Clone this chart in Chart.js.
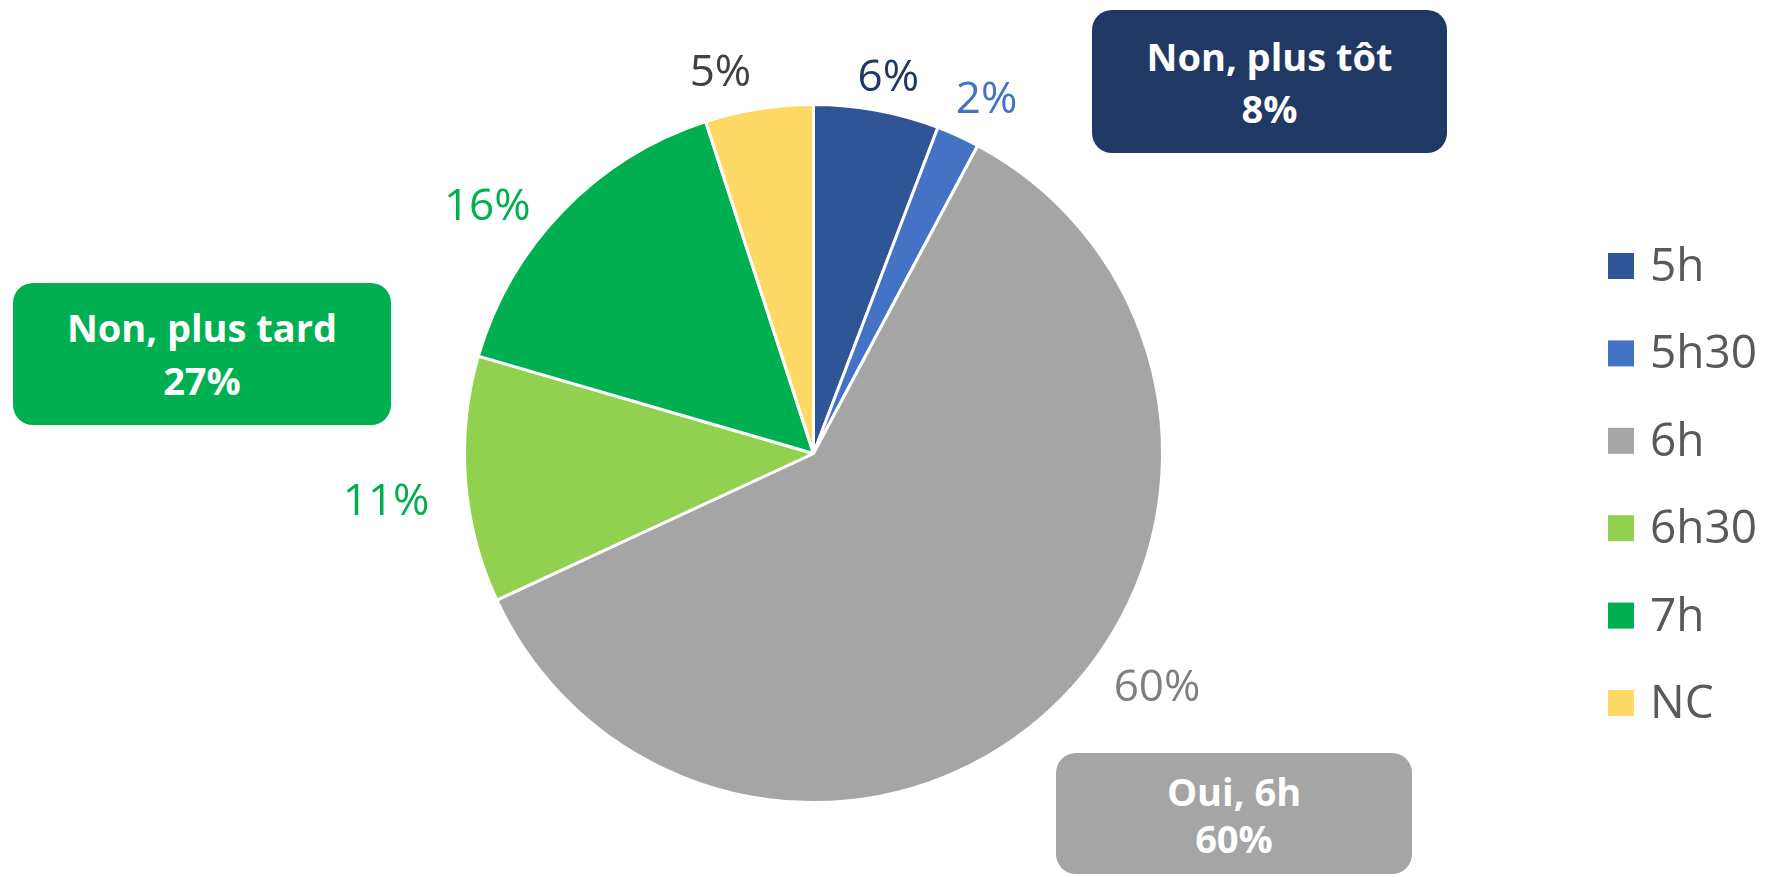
<!DOCTYPE html>
<html><head><meta charset="utf-8">
<script src="https://cdn.jsdelivr.net/npm/chart.js@4.4.0/dist/chart.umd.min.js"></script>
<style>
html,body{margin:0;padding:0;background:#fff;}
#wrap{position:relative;width:1765px;height:877px;overflow:hidden;}
canvas{position:absolute;left:0;top:0;}
.box{position:absolute;color:#fff;font-family:'Open Sans',sans-serif;font-weight:700;font-size:38px;text-align:center;border-radius:20px;box-sizing:border-box;white-space:nowrap;}
</style></head><body>
<div id="wrap"><canvas id="c" width="1765" height="877"></canvas></div>
<script>
// ---- data ----
const categories = ['5h', '5h30', '6h', '6h30', '7h', 'NC'];
const values = [5.8, 2.0, 60.3, 11.4, 15.5, 5.0];
const groupNames = ['Non, plus tôt', 'Non, plus tard', 'Oui, 6h'];
const groupShares = ['8%', '27%', '60%'];

// ---- styles / layout ----
const sliceColors = ['#2F5597', '#4472C4', '#A5A5A5', '#92D050', '#00B050', '#FFD966'];
const labelColors = ['#203864', '#4472C4', '#7F7F7F', '#00B050', '#00B050', '#404040'];
const labelNudge = [[0.8, 1.100], [1.5, 1.132], [-12.5, 1.189], [-2.0, 1.232], [-6.8, 1.175], [-4.7, 1.126]];
const groupStyles = [
  {left:1092, top:10, width:355, height:143, bg:'#203864', pad:20, lh:52},
  {left:13, top:283, width:378, height:142, bg:'#00B050', pad:18, lh:53},
  {left:1056, top:753, width:356, height:121, bg:'#A5A5A5', pad:15, lh:47}
];

const wrap = document.getElementById('wrap');
groupNames.forEach((n, i) => {
  const s = groupStyles[i];
  const d = document.createElement('div');
  d.className = 'box';
  d.style.cssText += `left:${s.left}px;top:${s.top}px;width:${s.width}px;height:${s.height}px;background:${s.bg};padding-top:${s.pad}px;line-height:${s.lh}px;`;
  d.innerHTML = n + '<br>' + groupShares[i];
  wrap.appendChild(d);
});

const total = values.reduce((a, b) => a + b, 0);

const labelsPlugin = {
  id: 'outLabels',
  afterDatasetsDraw(chart) {
    const ctx = chart.ctx;
    const meta = chart.getDatasetMeta(0);
    ctx.save();
    ctx.font = '44px "Open Sans", sans-serif';
    ctx.textAlign = 'center';
    ctx.textBaseline = 'middle';
    meta.data.forEach((arc, i) => {
      const p = arc.getProps(['x', 'y', 'startAngle', 'endAngle', 'outerRadius'], true);
      const mid = (p.startAngle + p.endAngle) / 2 + labelNudge[i][0] * Math.PI / 180;
      const r = p.outerRadius * labelNudge[i][1];
      ctx.fillStyle = labelColors[i];
      ctx.fillText(Math.round(values[i] / total * 100) + '%', p.x + Math.cos(mid) * r, p.y + Math.sin(mid) * r + 2);
    });
    ctx.restore();
  }
};

const legendPlugin = {
  id: 'sideLegend',
  afterDraw(chart) {
    const ctx = chart.ctx;
    ctx.save();
    ctx.font = '46px "Open Sans", sans-serif';
    ctx.textAlign = 'left';
    ctx.textBaseline = 'alphabetic';
    categories.forEach((c, i) => {
      const cy = 266 + i * 87.4;
      ctx.fillStyle = sliceColors[i];
      ctx.fillRect(1608, cy - 13, 26, 26);
      ctx.fillStyle = '#595959';
      ctx.fillText(c, 1650, cy + 15);
    });
    ctx.restore();
  }
};

new Chart(document.getElementById('c'), {
  type: 'pie',
  data: {
    labels: categories,
    datasets: [{
      data: values,
      backgroundColor: sliceColors,
      borderColor: '#FFFFFF',
      borderWidth: 3,
      hoverOffset: 0,
      offset: 0
    }]
  },
  options: {
    responsive: false,
    animation: false,
    events: [],
    layout: {padding: {left: 463, top: 103, right: 601, bottom: 73}},
    plugins: {legend: {display: false}, tooltip: {enabled: false}}
  },
  plugins: [labelsPlugin, legendPlugin]
});
</script>
</body></html>
